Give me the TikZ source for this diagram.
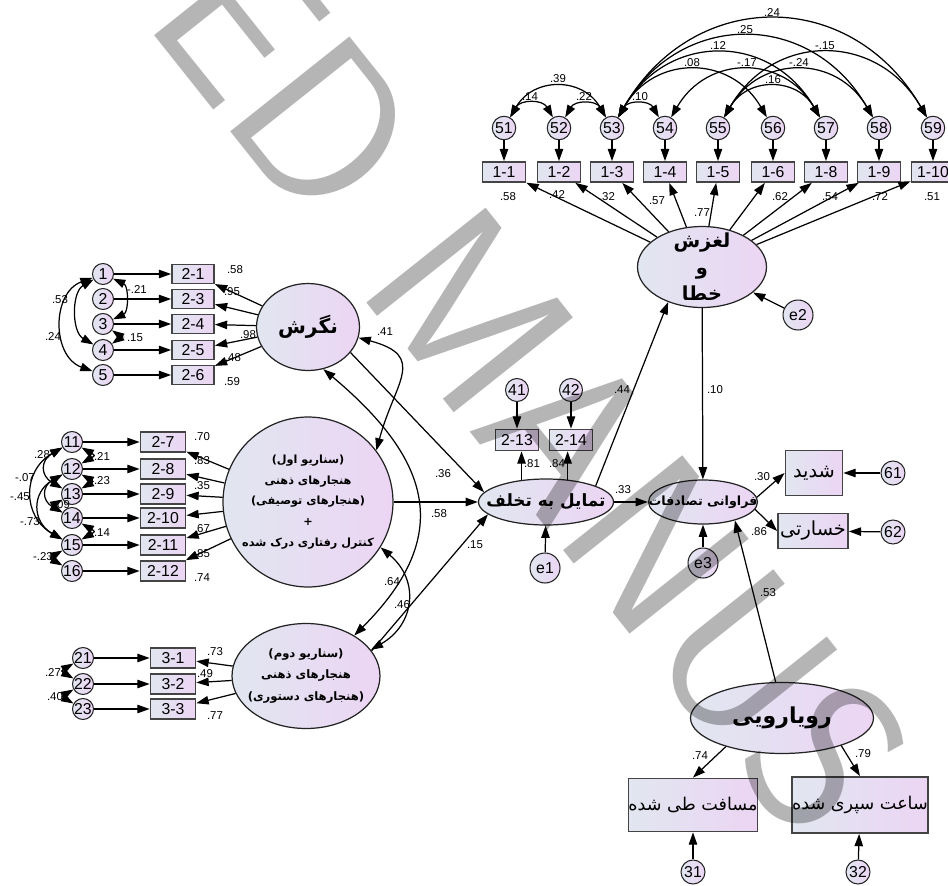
\documentclass[tikz,border=0pt]{standalone}
\usepackage{fontspec}
\setmainfont{Liberation Sans}
\newfontfamily\farsi[Script=Arabic]{DejaVu Sans}
\TeXXeTstate=1
\usetikzlibrary{shapes.geometric,arrows.meta}
\newcommand{\fatxt}[1]{{\farsi\beginR#1\endR}}
\newcommand{\fabold}[1]{{\farsi\bfseries\beginR#1\endR}}
\definecolor{shadeL}{RGB}{225,230,240}
\definecolor{shadeR}{RGB}{236,213,244}
\definecolor{edge}{RGB}{35,35,35}
\tikzset{
  obsbox/.style={rectangle, draw=edge!85, line width=1pt, left color=shadeL, right color=shadeR, inner sep=0pt, font=\fontsize{9}{10}\selectfont},
  errc/.style={circle, draw=edge, line width=0.6pt, left color=shadeL, right color=shadeR, inner sep=0pt, minimum size=0.44cm, font=\fontsize{9}{10}\selectfont},
  latent/.style={ellipse, draw=edge, line width=0.7pt, left color=shadeL, right color=shadeR, inner sep=0pt},
  lattext/.style={inner sep=0pt, align=center},
  reg/.style={-{Triangle[length=7pt,width=4.8pt]}, line width=0.7pt},
  cov/.style={{Triangle[length=7pt,width=4.8pt]}-{Triangle[length=7pt,width=4.8pt]}, line width=0.7pt},
  coef/.style={font=\fontsize{6.5}{7}\selectfont, inner sep=0pt},
  wmark/.style={rotate=-51.5, anchor=base west, inner sep=0pt, text=black, text opacity=0.29, font=\fontsize{125}{125}\sffamily}
}
\begin{document}
\begin{tikzpicture}[x=0.02cm, y=-0.02cm]
  \useasboundingbox (0,0) rectangle (948,886);

  % Latent variables
  \node[latent, minimum width=2.58cm, minimum height=1.62cm] (L) at (702,267) {};
  \node[lattext, font=\fontsize{11}{15}\selectfont] (Lt) at (L) {\fabold{لغزش}\\\fabold{و}\\\fabold{خطا}};
  \node[latent, minimum width=2.06cm, minimum height=1.74cm] (N) at (308,327) {};
  \node[lattext, font=\fontsize{11.5}{13}\selectfont] (Nt) at (N) {\fabold{نگرش}};
  \node[latent, minimum width=3.4cm, minimum height=3.4cm] (S1) at (308,502) {};
  \node[lattext, font=\fontsize{6.4}{11.8}\selectfont] (S1t) at (S1) {\fabold{(سناریو اول)}\\\fabold{هنجارهای ذهنی}\\\fabold{(هنجارهای توصیفی)}\\\fabold{+}\\\fabold{کنترل رفتاری درک شده}};
  \node[latent, minimum width=2.96cm, minimum height=2.1cm] (S2) at (306,676) {};
  \node[lattext, font=\fontsize{6.6}{12.5}\selectfont] (S2t) at (S2) {\fabold{(سناریو دوم)}\\\fabold{هنجارهای ذهنی}\\\fabold{(هنجارهای دستوری)}};
  \node[latent, minimum width=2.7cm, minimum height=0.92cm] (T) at (546,502) {};
  \node[lattext, font=\fontsize{9.6}{12}\selectfont] (Tt) at (T) {\fabold{تمایل به تخلف}};
  \node[latent, minimum width=2.18cm, minimum height=0.88cm] (F) at (703,502) {};
  \node[lattext, font=\fontsize{7.2}{8}\selectfont] (Ft) at (F) {\fabold{فراوانی تصادفات}};
  \node[latent, minimum width=3.66cm, minimum height=1.42cm] (R) at (782,718) {};
  \node[lattext, font=\fontsize{12.5}{14}\selectfont] (Rt) at (R) {\fabold{رویارویی}};

  % Residuals of latents
  \node[errc, minimum size=0.6cm] (e1) at (545,568) {e1};
  \node[errc, minimum size=0.6cm] (e2) at (798,315) {e2};
  \node[errc, minimum size=0.6cm] (e3) at (703,563) {e3};

  % Indicators of the slip and error factor
  \foreach \x/\e/\b in {504/51/1-1, 559/52/1-2, 612/53/1-3, 665/54/1-4, 718/55/1-5, 773/56/1-6, 826/57/1-8, 879/58/1-9, 933/59/1-10}{
    \node[errc, minimum size=0.47cm] (c\e) at (\x,128) {\e};
    \node[obsbox, minimum width=0.86cm, minimum height=0.4cm] (o\e) at (\x,172) {\b};
    \draw[reg] (c\e) -- (o\e);
    \draw[reg] (L) -- (o\e);
  }

  % Indicators of attitude
  \foreach \y/\e/\b in {274/1/2-1, 299/2/2-3, 324/3/2-4, 350/4/2-5, 375/5/2-6}{
    \node[errc, minimum size=0.42cm] (c\e) at (103,\y) {\e};
    \node[obsbox, minimum width=0.84cm, minimum height=0.38cm] (o\e) at (193,\y) {\b};
    \draw[reg] (c\e) -- (o\e);
    \draw[reg] (N) -- (o\e);
  }

  % Indicators of scenario one
  \foreach \y/\e/\b in {442/11/2-7, 469/12/2-8, 494/13/2-9, 518/14/2-10, 545/15/2-11, 571/16/2-12}{
    \node[errc, minimum size=0.42cm] (c\e) at (72,\y) {\e};
    \node[obsbox, minimum width=0.9cm, minimum height=0.4cm] (o\e) at (163,\y) {\b};
    \draw[reg] (c\e) -- (o\e);
    \draw[reg] (S1) -- (o\e);
  }

  % Indicators of scenario two
  \foreach \y/\e/\b in {658/21/3-1, 684/22/3-2, 709/23/3-3}{
    \node[errc, minimum size=0.42cm] (c\e) at (83,\y) {\e};
    \node[obsbox, minimum width=0.9cm, minimum height=0.4cm] (o\e) at (173,\y) {\b};
    \draw[reg] (c\e) -- (o\e);
    \draw[reg] (S2) -- (o\e);
  }

  % Indicators of intention
  \node[errc, minimum size=0.46cm] (c41) at (517,390) {41};
  \node[errc, minimum size=0.46cm] (c42) at (571,390) {42};
  \node[obsbox, minimum width=0.86cm, minimum height=0.42cm] (o41) at (517,440) {2-13};
  \node[obsbox, minimum width=0.86cm, minimum height=0.42cm] (o42) at (571,440) {2-14};

  % Indicators of accidents and exposure
  \node[obsbox, minimum width=1.14cm, minimum height=0.9cm, font=\fontsize{11}{13}\selectfont] (o61) at (814,473) {\fatxt{شدید}};
  \node[obsbox, minimum width=1.4cm, minimum height=0.7cm, font=\fontsize{11}{13}\selectfont] (o62) at (813,531) {\fatxt{خسارتی}};
  \node[errc, minimum size=0.48cm] (c61) at (893,473) {61};
  \node[errc, minimum size=0.48cm] (c62) at (893,532) {62};
  \node[obsbox, minimum width=2.4cm, minimum height=1.06cm, font=\fontsize{10}{12}\selectfont] (o31) at (693,805) {\fatxt{مسافت طی شده}};
  \node[obsbox, minimum width=2.46cm, minimum height=1.12cm, font=\fontsize{10}{12}\selectfont] (o32) at (860,805) {\fatxt{ساعت سپری شده}};
  \node[errc, minimum size=0.48cm] (c31) at (693,872) {31};
  \node[errc, minimum size=0.48cm] (c32) at (858,872) {32};

  % Arrows
  \draw[reg] (N.-31) -- (T.171);
  \draw[reg] (S1) -- (T);
  \draw[reg] (S2.21) -- (T.192);
  \draw[reg] (T.18) -- (L.226);
  \draw[reg] (T) -- (F);
  \draw[reg] (L) -- (F);
  \draw[reg] (R.100) -- (F.-30);
  \draw[reg] (c41) -- (o41);
  \draw[reg] (c42) -- (o42);
  \draw[reg] (T.138) -- (T.138 |- o41.south);
  \draw[reg] (T.46) -- (T.46 |- o42.south);
  \draw[reg] (F.5) -- (o61.west);
  \draw[reg] (F.-8) -- (o62.west);
  \draw[reg] (c61) -- (o61);
  \draw[reg] (c62) -- (o62);
  \draw[reg] (R.-153) -- (o31.north);
  \draw[reg] (R.-25) -- (o32.north);
  \draw[reg] (c31) -- (o31);
  \draw[reg] (c32) -- (o32);
  \draw[reg] (e1) -- (T);
  \draw[reg] (e2) -- (L);
  \draw[reg] (e3) -- (F);

  % Covariances
  \foreach \a/\b in {51/52, 51/53, 52/53, 53/54, 53/56, 53/57, 53/58, 53/59, 54/57, 55/57, 55/58, 55/59}
    \draw[cov] (c\a) to[out=60, in=120, looseness=1.25] (c\b);
  \draw[cov] (c1) to[out=-25, in=25, looseness=1.1] (c3);
  \draw[cov] (c3) to[out=-35, in=35, looseness=2.5] (c4);
  \draw[cov] (c1) to[out=210, in=150, looseness=1] (c4);
  \draw[cov] (c1) to[out=200, in=160, looseness=1.2] (c5);
  \foreach \a/\b in {11/12, 12/13, 14/15}
    \draw[cov] (c\a) to[out=-30, in=30, looseness=2.5] (c\b);
  \foreach \a/\b/\l in {11/13/1.6, 12/14/1.6, 11/15/1.3, 12/15/1.4, 13/14/2.5, 15/16/2.5}
    \draw[cov] (c\a) to[out=210, in=150, looseness=\l] (c\b);
  \draw[cov] (c21) to[out=210, in=150, looseness=2.4] (c22);
  \draw[cov] (c22) to[out=210, in=150, looseness=2.4] (c23);
  \draw[cov] (N.-12) to[out=-15, in=75, looseness=1.6] (S1.37);
  \draw[cov] (N.-70) to[out=-40, in=45, looseness=1.35] (S2.40);
  \draw[cov] (S1.-32) to[out=-40, in=30, looseness=1.27] (S2.22);

  % Estimates
  \foreach \x/\y/\t [count=\k] in {530/97/.14, 558/79/.39, 584/97/.22, 640/97/.10, 692/63/.08, 718/46/.12, 745/30/.25, 772/13/.24, 747/63/-.17, 799/63/-.24, 773/80/.16, 825/46/-.15}
    \node[coef] (kt\k) at (\x,\y) {\t};
  \foreach \x/\y/\t [count=\k] in {508/197/.58, 557/195/.42, 607/197/.32, 657/201/.57, 702/213/.77, 780/197/.62, 830/197/.54, 880/197/.72, 932/197/.51}
    \node[coef] (kl\k) at (\x,\y) {\t};
  \foreach \x/\y/\t [count=\k] in {235/270/.58, 232/292/.95, 248/335/.98, 233/358/.48, 232/382/.59, 137/290/-.21, 135/338/.15, 60/300/.53, 53/337/.24}
    \node[coef] (kn\k) at (\x,\y) {\t};
  \foreach \x/\y/\t [count=\k] in {202/437/.70, 202/461/.83, 202/486/.35, 202/529/.67, 202/554/.85, 202/578/.74, 42/455/.28, 25/478/-.07, 20/497/-.45, 30/522/-.73, 43/557/-.23, 62/505/.09, 102/457/.21, 102/481/.23, 102/533/.14}
    \node[coef] (ks\k) at (\x,\y) {\t};
  \foreach \x/\y/\t [count=\k] in {215/652/.73, 205/674/.49, 215/716/.77, 53/673/.27, 55/697/.40}
    \node[coef] (kd\k) at (\x,\y) {\t};
  \foreach \x/\y/\t [count=\k] in {385/332/.41, 392/582/.64, 402/605/.46, 443/474/.36, 439/514/.58, 475/545/.15, 532/464/.81, 557/464/.84, 622/390/.44, 715/390/.10, 623/490/.33, 762/477/.30, 759/532/.86, 768/593/.53, 700/756/.74, 863/754/.79}
    \node[coef] (kp\k) at (\x,\y) {\t};

  % Watermark
  \node[wmark] (wm) at (142,20) {ED MANUS};
\end{tikzpicture}
\end{document}
